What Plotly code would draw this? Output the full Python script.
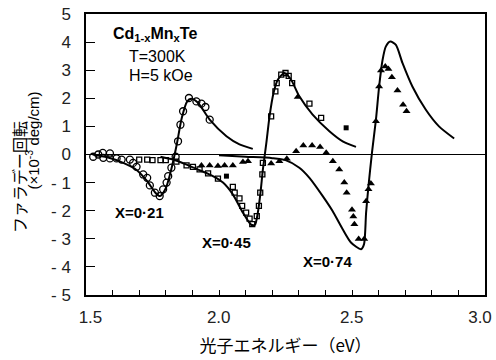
import plotly.graph_objects as go

# ---------------- data ----------------
# solid theory curves
c021_x = [1.525, 1.58, 1.64, 1.69, 1.73, 1.76, 1.778, 1.80, 1.82, 1.84, 1.86, 1.88, 1.895, 1.92, 1.965, 2.028, 2.077, 2.127]
c021_y = [0.0, -0.1, -0.3, -0.55, -0.95, -1.35, -1.48, -1.2, -0.55, 0.3, 1.3, 1.88, 1.98, 1.85, 1.24, 0.65, 0.36, 0.2]

c045_x = [1.78, 1.827, 1.878, 1.927, 1.977, 2.015, 2.052, 2.09, 2.121, 2.135, 2.146, 2.156, 2.165, 2.178, 2.19, 2.205, 2.221, 2.246, 2.271, 2.302, 2.352, 2.415, 2.465, 2.515]
c045_y = [-0.08, -0.18, -0.36, -0.56, -0.77, -1.0, -1.42, -2.07, -2.5, -2.5, -2.07, -1.36, -0.53, 0.41, 1.36, 2.19, 2.66, 2.9, 2.66, 2.07, 1.42, 0.83, 0.47, 0.27]

c074_x = [2.0, 2.1, 2.2, 2.25, 2.302, 2.34, 2.39, 2.427, 2.465, 2.496, 2.534, 2.545, 2.553, 2.562, 2.575, 2.59, 2.602, 2.615, 2.627, 2.644, 2.665, 2.69, 2.727, 2.777, 2.827, 2.884]
c074_y = [-0.03, -0.08, -0.13, -0.2, -0.47, -0.83, -1.48, -2.01, -2.66, -3.13, -3.37, -3.2, -2.07, -1.12, 0.06, 1.24, 2.42, 3.37, 3.84, 4.02, 3.9, 3.25, 2.42, 1.6, 1.0, 0.57]

# measured points, x = 0.21 (open circles)
p021_x = [1.527, 1.546, 1.563, 1.565, 1.59, 1.59, 1.615, 1.634, 1.665, 1.677, 1.69, 1.715, 1.73, 1.74, 1.759, 1.777, 1.79, 1.803, 1.809, 1.821, 1.837, 1.846, 1.855, 1.865, 1.887, 1.915, 1.934, 1.949, 1.965]
p021_y = [-0.08, 0.0, 0.06, -0.12, 0.04, -0.14, -0.14, -0.18, -0.18, -0.3, -0.44, -0.71, -0.83, -1.1, -1.36, -1.48, -1.24, -1.0, -0.77, -0.47, -0.08, 0.47, 1.06, 1.54, 2.01, 1.89, 1.81, 1.69, 1.24]

# measured points, x = 0.45 (open squares)
p045_x = [1.70, 1.73, 1.75, 1.78, 1.80, 1.84, 1.878, 1.902, 1.927, 1.959, 1.996, 2.052, 2.059, 2.077, 2.087, 2.102, 2.115, 2.125, 2.142, 2.15, 2.155, 2.163, 2.165, 2.196, 2.212, 2.217, 2.234, 2.25, 2.262, 2.275, 2.34, 2.384]
p045_y = [-0.18, -0.18, -0.2, -0.2, -0.2, -0.25, -0.39, -0.44, -0.53, -0.67, -0.86, -1.15, -1.36, -1.56, -1.83, -2.07, -2.28, -2.48, -2.19, -1.83, -1.36, -0.71, -0.3, 1.36, 2.25, 2.54, 2.84, 2.9, 2.8, 2.54, 1.81, 1.3]

# filled squares (outliers)
ps_x = [2.028, 2.478]
ps_y = [-0.77, 0.95]

# measured points, x = 0.74 (filled triangles)
p074_x = [1.934, 1.965, 1.996, 2.021, 2.052, 2.09, 2.109, 2.196, 2.227, 2.255, 2.29, 2.317, 2.35, 2.38, 2.403, 2.428, 2.452, 2.471, 2.48, 2.5, 2.505, 2.509, 2.525, 2.546, 2.553, 2.562, 2.571, 2.59, 2.602, 2.609, 2.625, 2.637, 2.65, 2.671, 2.692, 2.705, 2.296]
p074_y = [-0.39, -0.39, -0.41, -0.39, -0.39, -0.27, -0.24, -0.32, -0.24, -0.15, 0.12, 0.32, 0.32, 0.27, 0.06, -0.24, -0.53, -1.0, -1.36, -1.97, -2.21, -2.48, -3.01, -3.01, -1.66, -1.24, -1.03, 1.18, 2.42, 2.99, 3.13, 3.04, 2.75, 2.28, 1.77, 1.54, 2.05]

NB = "\u00a0"
x_tickvals = [1.5, 2.0, 2.5, 3.0]
x_ticktext = [NB * 4 + "1.5", NB * 2 + "2.0", NB * 2 + "2.5", "3.0"]
x_minor_vals = [1.6, 1.7, 1.8, 1.9, 2.1, 2.2, 2.3, 2.4, 2.6, 2.7, 2.8, 2.9]
y_tickvals = [5, 4, 3, 2, 1, 0, -1, -2, -3, -4, -5]
y_ticktext = ["5", "4", "3", "2", "1", "0", "- 1", "- 2", "- 3", "- 4", "- 5"]

labels_txt = ["X=0·21", "X=0·45", "X=0·74"]
labels_x = [1.70, 2.03, 2.406]
labels_y = [-2.06, -3.13, -3.8]

# ---------------- figure ----------------
fig = go.Figure()
line_style = dict(color="black", width=2, shape="spline", smoothing=0.7)
for cx, cy in [(c021_x, c021_y), (c045_x, c045_y), (c074_x, c074_y)]:
    fig.add_trace(go.Scatter(x=cx, y=cy, mode="lines", line=line_style, hoverinfo="skip"))

fig.add_trace(go.Scatter(x=p021_x, y=p021_y, mode="markers",
                         marker=dict(symbol="circle-open", size=7, color="black", line=dict(width=1.3))))
fig.add_trace(go.Scatter(x=p045_x, y=p045_y, mode="markers",
                         marker=dict(symbol="square-open", size=5, color="black", line=dict(width=1.3))))
fig.add_trace(go.Scatter(x=ps_x, y=ps_y, mode="markers",
                         marker=dict(symbol="square", size=5, color="black")))
fig.add_trace(go.Scatter(x=p074_x, y=p074_y, mode="markers",
                         marker=dict(symbol="triangle-up", size=7, color="black")))

FONT = "Liberation Sans, Arial, sans-serif"
JFONT = "Noto Sans CJK JP, sans-serif"

for t, lx, ly in zip(labels_txt, labels_x, labels_y):
    fig.add_annotation(x=lx, y=ly, text="<b>" + t + "</b>", showarrow=False,
                       font=dict(family=FONT, size=15, color="black"))

fig.add_annotation(x=1.594, y=4.27, xanchor="left", text="<b>Cd<sub>1-x</sub>Mn<sub>x</sub>Te</b>",
                   showarrow=False, font=dict(family=FONT, size=16, color="black"))
fig.add_annotation(x=1.654, y=3.48, xanchor="left", text="T=300K",
                   showarrow=False, font=dict(family=FONT, size=16, color="black"))
fig.add_annotation(x=1.654, y=2.81, xanchor="left", text="H=5 kOe",
                   showarrow=False, font=dict(family=FONT, size=16, color="black"))

# y-axis title (two lines)
fig.add_annotation(xref="paper", yref="paper", x=-0.168, y=0.42, textangle=-90,
                   xanchor="center", yanchor="middle",
                   text="ファラデー回転", showarrow=False,
                   font=dict(family=JFONT, size=16, color="black"))
fig.add_annotation(xref="paper", yref="paper", x=-0.135, y=0.55, textangle=-90,
                   xanchor="center", yanchor="middle",
                   text="(×10<sup>-3</sup> deg/cm)", showarrow=False,
                   font=dict(family=FONT, size=15, color="black"))

fig.update_layout(
    width=496, height=360,
    margin=dict(l=86, r=11, t=14, b=65),
    plot_bgcolor="white", paper_bgcolor="white",
    showlegend=False,
    xaxis=dict(range=[1.5, 3.0], tickvals=x_tickvals, ticktext=x_ticktext,
               ticks="inside", ticklen=5, tickwidth=1, tickcolor="black",
               minor=dict(tickvals=x_minor_vals, ticks="inside", ticklen=5, tickwidth=1,
                          tickcolor="black", showgrid=False),
               showline=True, linecolor="black", linewidth=1.5, mirror=True,
               showgrid=False, zeroline=False, automargin=False,
               ticklabeloverflow="allow", ticklabelshift=-5,
               tickfont=dict(family=FONT, size=17, color="#222"),
               ticklabelstandoff=6,
               title=dict(text="\u3000光子エネルギー（eV）", font=dict(family=JFONT, size=17, color="black"), standoff=14)),
    yaxis=dict(range=[-5, 5], tickvals=y_tickvals, ticktext=y_ticktext,
               ticks="inside", ticklen=9, tickwidth=1, tickcolor="black",
               showline=True, linecolor="black", linewidth=1.5, mirror=True,
               showgrid=False, zeroline=True, zerolinecolor="black", zerolinewidth=1,
               automargin=False,
               tickfont=dict(family=FONT, size=17, color="#222"),
               ticklabelstandoff=10),
)

fig.write_html("out.html", config={"displayModeBar": False},
               post_script="document.body.style.margin='0';")
